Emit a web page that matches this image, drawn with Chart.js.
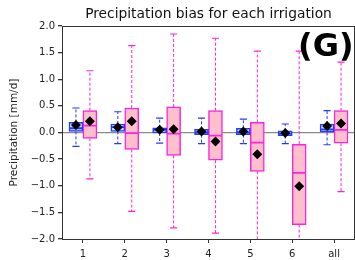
<!DOCTYPE html>
<html>
<head>
<meta charset="utf-8">
<script src="https://cdn.jsdelivr.net/npm/chart.js@4"></script>
<style>
  html, body { margin: 0; padding: 0; background: #fff; }
  #wrap { width: 355px; height: 260px; }
</style>
</head>
<body>
<div id="wrap"><canvas id="chart"></canvas></div>
<script>
// ---- DATA ----
const categories = ['1', '2', '3', '4', '5', '6', 'all'];
const yTicks = [-2.0, -1.5, -1.0, -0.5, 0.0, 0.5, 1.0, 1.5, 2.0];

// blue series
const blueLo   = [-0.26, -0.21, -0.20, -0.21, -0.21, -0.21, -0.23];
const blueQ1   = [ 0.02,  0.02, -0.01, -0.04, -0.04, -0.06,  0.00];
const blueMed  = [ 0.08,  0.10,  0.05,  0.00,  0.00, -0.02,  0.06];
const blueQ3   = [ 0.19,  0.16,  0.09,  0.06,  0.08,  0.03,  0.16];
const blueHi   = [ 0.46,  0.39,  0.27,  0.27,  0.25,  0.16,  0.41];
const blueMean = [ 0.14,  0.10,  0.05,  0.02,  0.02, -0.01,  0.12];

// pink series
const pinkLo   = [-0.87, -1.48, -1.79, -1.89, -2.30, -2.40, -1.11];
const pinkQ1   = [-0.11, -0.32, -0.43, -0.52, -0.73, -1.73, -0.20];
const pinkMed  = [ 0.13, -0.01, -0.02, -0.06, -0.19, -0.76,  0.05];
const pinkQ3   = [ 0.41,  0.46,  0.48,  0.41,  0.19, -0.22,  0.41];
const pinkHi   = [ 1.16,  1.63,  1.85,  1.77,  1.53,  1.53,  1.32];
const pinkMean = [ 0.21,  0.21,  0.06, -0.17, -0.41, -1.01,  0.17];

// ---- STYLE ----
const OFF = 1 / 6;        // box offset from category centre (x units)
const HALF_BOX = 0.16;    // half box width (x units) for median line
const HALF_CAP = 0.085;   // half cap width

const BLUE = '#1f3cff', BLUE_FILL = '#cfdcff';
const PINK = '#ff22dd', PINK_FILL = '#ffc0cb';

// ---- HELPERS ----
function boxData(q1, q3, dx) {
  return q1.map((v, i) => ({ x: i + 1 + dx, y: [v, q3[i]] }));
}
function whiskerData(lo, q1, q3, hi, dx) {
  const pts = [];
  lo.forEach((v, i) => {
    const x = i + 1 + dx;
    pts.push({ x, y: q3[i] }, { x, y: hi[i] }, { x, y: null });
    pts.push({ x, y: q1[i] }, { x, y: v }, { x, y: null });
  });
  return pts;
}
function hLines(vals, dx, half) {
  const pts = [];
  vals.forEach((v, i) => {
    const x = i + 1 + dx;
    pts.push({ x: x - half, y: v }, { x: x + half, y: v }, { x, y: null });
  });
  return pts;
}
function points(vals, dx) {
  return vals.map((v, i) => ({ x: i + 1 + dx, y: v }));
}
function lineSet(data, color, width, dash, order) {
  return {
    type: 'line', data, borderColor: color, borderWidth: width,
    borderDash: dash || [], pointRadius: 0, spanGaps: false, tension: 0, order
  };
}

const extras = {
  id: 'extras',
  afterDraw(chart) {
    const { ctx, chartArea: a } = chart;
    ctx.save();
    ctx.strokeStyle = '#333';
    ctx.lineWidth = 1;
    ctx.strokeRect(a.left + 0.5, a.top + 0.5, a.right - a.left - 1, a.bottom - a.top);
    ctx.fillStyle = '#111';
    ctx.font = '13.8px "DejaVu Sans"';
    ctx.textAlign = 'center';
    ctx.textBaseline = 'middle';
    ctx.fillText('Precipitation bias for each irrigation', (a.left + a.right) / 2, 14);
    ctx.fillStyle = '#000';
    ctx.font = 'bold 32px "DejaVu Sans"';
    ctx.textAlign = 'left';
    ctx.textBaseline = 'alphabetic';
    ctx.fillText('(G)', 298, 56);
    ctx.restore();
  }
};

new Chart(document.getElementById('chart'), {
  data: {
    datasets: [
      { type: 'bar', data: boxData(blueQ1, blueQ3, -OFF), backgroundColor: BLUE_FILL,
        borderColor: BLUE, borderWidth: 1.5, borderSkipped: false, barThickness: 14, grouped: false, order: 5 },
      { type: 'bar', data: boxData(pinkQ1, pinkQ3, OFF), backgroundColor: PINK_FILL,
        borderColor: PINK, borderWidth: 1.5, borderSkipped: false, barThickness: 14, grouped: false, order: 5 },
      lineSet(whiskerData(blueLo, blueQ1, blueQ3, blueHi, -OFF), BLUE, 1, [3, 2], 6),
      lineSet(whiskerData(pinkLo, pinkQ1, pinkQ3, pinkHi, OFF), PINK, 1, [3, 2], 6),
      lineSet(hLines(blueHi, -OFF, HALF_CAP), BLUE, 1.2, null, 4),
      lineSet(hLines(blueLo, -OFF, HALF_CAP), BLUE, 1.2, null, 4),
      lineSet(hLines(pinkHi, OFF, HALF_CAP), PINK, 1.2, null, 4),
      lineSet(hLines(pinkLo, OFF, HALF_CAP), PINK, 1.2, null, 4),
      lineSet(hLines(blueMed, -OFF, HALF_BOX), BLUE, 1.8, null, 3),
      lineSet(hLines(pinkMed, OFF, HALF_BOX), PINK, 1.8, null, 3),
      { type: 'scatter', data: points(blueMean, -OFF), pointStyle: 'rectRot', pointRadius: 5,
        backgroundColor: '#000', borderColor: '#000', borderWidth: 0, order: 1 },
      { type: 'scatter', data: points(pinkMean, OFF), pointStyle: 'rectRot', pointRadius: 5,
        backgroundColor: '#000', borderColor: '#000', borderWidth: 0, order: 1 }
    ]
  },
  options: {
    responsive: true,
    maintainAspectRatio: false,
    animation: false,
    layout: { autoPadding: false, padding: { top: 26, right: 0, bottom: 0, left: 0 } },
    plugins: { legend: { display: false }, tooltip: { enabled: false } },
    scales: {
      x: {
        type: 'linear', min: 0.5, max: 7.5, offset: false,
        afterBuildTicks: s => { s.ticks = categories.map((c, i) => ({ value: i + 1 })); },
        afterFit: s => { s.height = 21; },
        ticks: { callback: v => categories[v - 1], color: '#222', font: { family: 'DejaVu Sans', size: 10 }, padding: 5, maxRotation: 0 },
        grid: { drawOnChartArea: false, tickLength: 4, color: '#333', offset: false },
        border: { display: false }
      },
      y: {
        min: -2, max: 2,
        afterBuildTicks: s => { s.ticks = yTicks.map(v => ({ value: v })); },
        afterFit: s => { s.width = 62; },
        ticks: { callback: v => v.toFixed(1).replace('-', '\u2212'), color: '#222', font: { family: 'DejaVu Sans', size: 10 }, padding: 3 },
        grid: {
          tickLength: 4, tickColor: '#333', lineWidth: 1.3,
          color: c => (c.tick && c.tick.value === 0) ? '#8a8a8a' : 'rgba(0,0,0,0)'
        },
        border: { display: false },
        title: { display: true, text: 'Precipitation [mm/d]', color: '#222', font: { family: 'DejaVu Sans', size: 10.5 }, padding: { top: 8, bottom: 0 } }
      }
    }
  },
  plugins: [extras]
});
</script>
</body>
</html>
